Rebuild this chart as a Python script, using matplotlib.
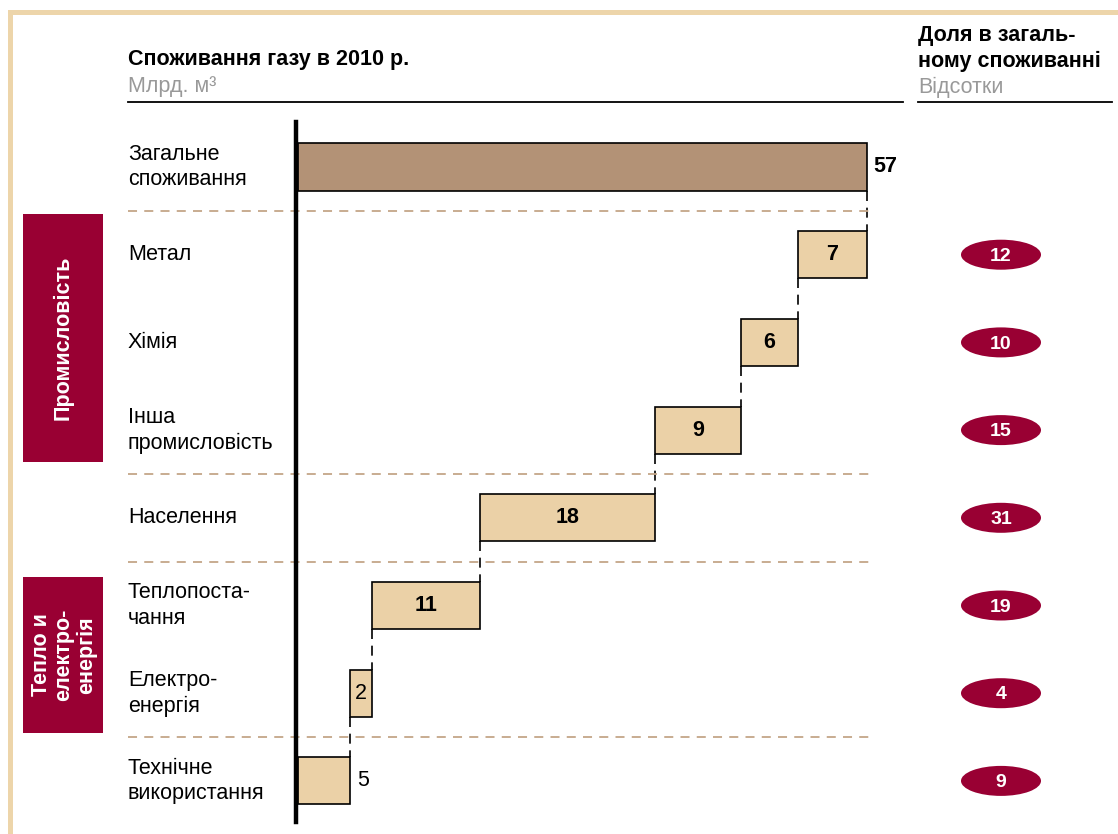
import matplotlib
matplotlib.use("Agg")
import matplotlib.pyplot as plt
from matplotlib.patches import Rectangle, Ellipse

plt.rcParams['font.family'] = ['Liberation Sans', 'DejaVu Sans']

# Дані
categories = ["Загальне\nспоживання", "Метал", "Хімія", "Інша\nпромисловість",
              "Населення", "Теплопоста-\nчання", "Електро-\nенергія", "Технічне\nвикористання"]
total = 57
segment_values = [6.9, 5.7, 8.6, 17.6, 10.8, 2.2, 5.2]   # млрд. м3
segment_labels = ["7", "6", "9", "18", "11", "2", "5"]
shares = [12, 10, 15, 31, 19, 4, 9]                       # відсотки
groups = ["Промисловість", "Тепло и\nелектро-\nенергія"]

# Кольори
border_col = '#EDD5AA'
total_col = '#B39276'
seg_col = '#EBD1A7'
red = '#990033'
sep_col = '#C4A688'

W, H = 1118, 834
fig = plt.figure(figsize=(W / 100, H / 100), dpi=100)

# шар оформлення в пікселях
deco = fig.add_axes([0, 0, 1, 1])
deco.set_xlim(0, W)
deco.set_ylim(H, 0)
deco.axis('off')

# основна вісь: x в млрд. м3, y - номер рядка
px_per_unit = (867 - 298) / total
row_px = 87.7
ax = fig.add_axes([0, 0, 1, 1])
ax.set_xlim(-298 / px_per_unit, (W - 298) / px_per_unit)
ax.set_ylim((H - 167) / row_px, -167 / row_px)
ax.axis('off')
ax.patch.set_alpha(0)

fs = 15.5

# рамка
deco.add_patch(Rectangle((8, 10), W, 5, color=border_col, lw=0))
deco.add_patch(Rectangle((8, 10), 5, H, color=border_col, lw=0))

# заголовки
deco.text(128, 59, "Споживання газу в 2010 р.", fontsize=15.5, fontweight='bold', va='center')
deco.text(128, 86, "Млрд. м³", fontsize=15.5, color='#999999', va='center')
deco.plot([128, 903], [102, 102], color='black', lw=1.3)
deco.text(918, 35, "Доля в загаль-", fontsize=15.5, fontweight='bold', va='center')
deco.text(918, 61, "ному споживанні", fontsize=15.5, fontweight='bold', va='center')
deco.text(918, 87, "Відсотки", fontsize=15.5, color='#999999', va='center')
deco.plot([918, 1112], [102, 102], color='black', lw=1.3)

# групові плашки
deco.add_patch(Rectangle((23, 214), 80, 248, color=red, lw=0))
deco.text(63, 338, groups[0], rotation=90, color='white', fontsize=fs, fontweight='bold',
          ha='center', va='center')
deco.add_patch(Rectangle((23, 577), 80, 156, color=red, lw=0))
deco.text(64, 655, groups[1], rotation=90, color='white', fontsize=fs, fontweight='bold',
          ha='center', va='center', multialignment='center', linespacing=1.1)

bh = 0.536
label_x = (128 - 298) / px_per_unit
ell_x = (1001 - 298) / px_per_unit

# загальний стовпчик
ax.barh(0, total, height=bh, color=total_col, edgecolor='black', lw=1.2)
ax.text(total + 0.6, 0, str(total), fontsize=fs, fontweight='bold', va='center')

# сегменти водоспаду
right = total
for i, (v, lab) in enumerate(zip(segment_values, segment_labels)):
    row = i + 1
    left = right - v
    ax.barh(row, v, left=left, height=bh, color=seg_col, edgecolor='black', lw=1.2)
    # з'єднувальна лінія
    ax.plot([right, right], [row - 1 + bh / 2, row - bh / 2], color='black', lw=1.2,
            linestyle=(0, (6, 4)))
    if i == len(segment_values) - 1:
        ax.text(right + 0.7, row, lab, fontsize=fs, va='center')
    else:
        ax.text(left + v / 2, row, lab, fontsize=fs, ha='center', va='center',
                fontweight='bold' if v > 3 else 'normal')
    # частка
    ax.add_patch(Ellipse((ell_x, row), 80 / px_per_unit, 30 / row_px, color=red, lw=0))
    ax.text(ell_x, row + 0.02, str(shares[i]), color='white', fontsize=14,
            fontweight='bold', ha='center', va='center')
    right = left

# підписи категорій
for row, cat in enumerate(categories):
    ax.text(label_x, row, cat, fontsize=fs, va='center', linespacing=1.3)

# розділювачі
for y in [0.5, 3.5, 4.5, 6.5]:
    ax.plot([label_x, 57.3], [y, y], color=sep_col, lw=1.3, linestyle=(0, (5, 4)))

# вертикальна вісь
ax.plot([-0.2, -0.2], [(122 - 167) / row_px, (822 - 167) / row_px], color='black', lw=3.2)

fig.savefig("out.png", dpi=100)
